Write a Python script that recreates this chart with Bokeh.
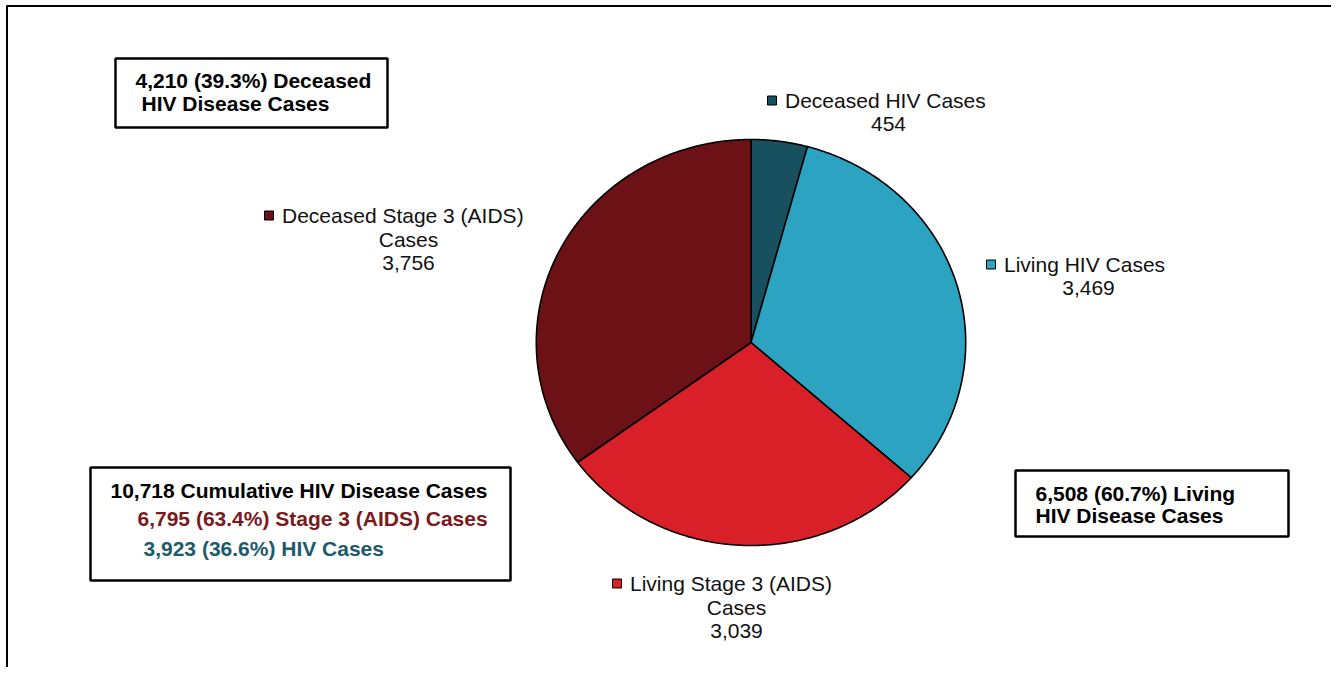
import numpy as np
from bokeh.plotting import figure
from bokeh.models import Range1d
from bokeh.core.properties import value
from bokeh.embed import file_html
from bokeh.resources import INLINE

# ---- data ----
categories = ["Deceased HIV Cases", "Living HIV Cases", "Living Stage 3 (AIDS) Cases", "Deceased Stage 3 (AIDS) Cases"]
counts = [454, 3469, 3039, 3756]
colors = ["#17515F", "#2CA3C0", "#D91F27", "#6C1116"]

total = sum(counts)
deceased = counts[0] + counts[3]
living = counts[1] + counts[2]
stage3 = counts[2] + counts[3]
hiv = counts[0] + counts[1]

FONT = value("Liberation Sans")

W, H = 1331, 667
p = figure(width=W, height=H, output_backend="svg", toolbar_location=None,
           x_range=Range1d(0, W), y_range=Range1d(H, 0),
           x_axis_type=None, y_axis_type=None, min_border=0)
p.grid.visible = False
p.outline_line_color = None
p.background_fill_color = "white"
p.border_fill_color = "white"

# outer chart border (top and left visible)
p.segment(x0=[6, 6.5], y0=[5.5, 5], x1=[W, 6.5], y1=[5.5, H], line_color="black", line_width=2)

# ---- pie (starts at top, clockwise) ----
cx, cy, rx, ry = 750.5, 342.0, 214.7, 203.0
frac = np.array(counts, dtype=float) / total
ends = np.cumsum(frac) * 2 * np.pi
starts = ends - frac * 2 * np.pi
xs, ys = [], []
for a0, a1 in zip(starts, ends):
    th = np.linspace(a0, a1, max(int((a1 - a0) * 120), 4))
    xs.append(list(np.concatenate([[cx], cx + rx * np.sin(th), [cx]])))
    ys.append(list(np.concatenate([[cy], cy - ry * np.cos(th), [cy]])))
p.patches(xs, ys, fill_color=colors, line_color="black", line_width=1.6)

# ---- data labels with legend keys ----
label_lines = [
    ["Deceased HIV  Cases", f"{counts[0]:,}"],
    ["Living HIV  Cases", f"{counts[1]:,}"],
    ["Living Stage 3 (AIDS)", "Cases", f"{counts[2]:,}"],
    ["Deceased Stage 3 (AIDS)", "Cases", f"{counts[3]:,}"],
]
# key square position and line anchors (center x of text block, first line y)
label_pos = [(771.5, 100, 888), (990.5, 264, 1088), (616.5, 583, 736), (268.5, 215, 408)]
line_h = 23.5
for col, lines, (kx, ky, tx) in zip(colors, label_lines, label_pos):
    p.quad(left=[kx - 4.5], right=[kx + 4.5], top=[ky - 4.5], bottom=[ky + 4.5],
           fill_color=col, line_color="black", line_width=1)
    p.text(x=[kx + 13], y=[ky], text=[lines[0]], text_font=FONT, text_font_size="21px",
           text_baseline="middle", text_align="left", text_color="#111111")
    for i, t in enumerate(lines[1:], start=1):
        p.text(x=[tx], y=[ky + i * line_h], text=[t], text_font=FONT, text_font_size="21px",
               text_baseline="middle", text_align="center", text_color="#111111")

# ---- annotation boxes ----
boxes = [(115, 387, 58, 127), (90, 510, 467, 580), (1015, 1288, 470, 536)]
for l, r, t, b in boxes:
    p.quad(left=[l], right=[r], top=[t], bottom=[b], fill_color="white",
           line_color="black", line_width=2.5)

box_texts = [
    (135, 80, f"{deceased:,} ({deceased / total * 100:.1f}%) Deceased", "black"),
    (141, 103, "HIV Disease Cases", "black"),
    (110, 490, f"{total:,} Cumulative HIV Disease Cases", "black"),
    (137, 518, f"{stage3:,} ({stage3 / total * 100:.1f}%) Stage 3 (AIDS) Cases", "#7A1A1F"),
    (143, 548, f"{hiv:,} ({hiv / total * 100:.1f}%) HIV Cases", "#1D5B6A"),
    (1035, 493, f"{living:,} ({living / total * 100:.1f}%) Living", "black"),
    (1035, 515, "HIV Disease Cases", "black"),
]
for x, y, t, c in box_texts:
    p.text(x=[x], y=[y], text=[t], text_font=FONT, text_font_size="21px",
           text_font_style="bold", text_baseline="middle", text_align="left", text_color=c)

open("out.html", "w").write(file_html(p, INLINE))
